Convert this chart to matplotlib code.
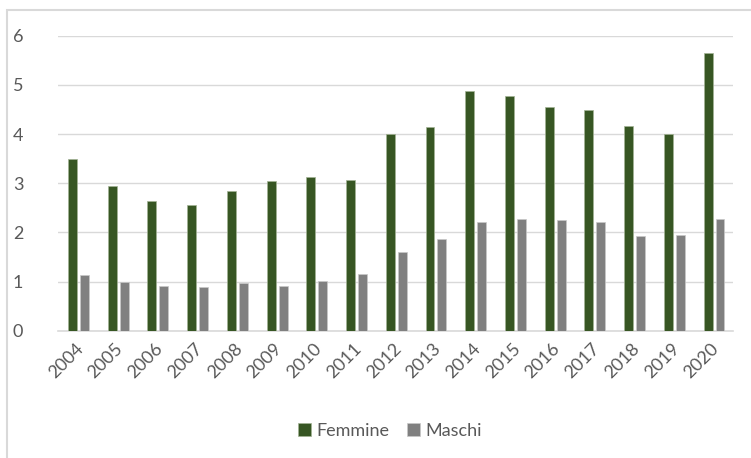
import numpy as np
import matplotlib.pyplot as plt
import matplotlib.transforms as mtransforms
from matplotlib.patches import Rectangle

plt.rcParams["font.family"] = ["Lato", "DejaVu Sans"]

# Values
years = [str(y) for y in range(2004, 2021)]
femmine = [3.50, 2.95, 2.63, 2.56, 2.85, 3.04, 3.13, 3.06, 4.01, 4.14,
           4.87, 4.78, 4.55, 4.48, 4.16, 4.01, 5.65]
maschi = [1.13, 0.99, 0.91, 0.89, 0.97, 0.91, 1.02, 1.15, 1.60, 1.86,
          2.21, 2.28, 2.26, 2.22, 1.93, 1.94, 2.28]

green = "#375623"
grey = "#808080"
text_col = "#595959"
grid_col = "#d9d9d9"

fig = plt.figure(figsize=(7.51, 4.58), dpi=100)
ax = fig.add_axes([58 / 751, 1 - 330.7 / 458, (733.3 - 58) / 751, (330.7 - 35.7) / 458])

x = np.arange(len(years))
w = 0.225
ax.bar(x - 0.135, femmine, w, color=green, edgecolor="#a3b395", linewidth=0.5, label="Femmine", zorder=3)
ax.bar(x + 0.165, maschi, w, color=grey, edgecolor="#c8c8c8", linewidth=0.5, label="Maschi", zorder=3)

ax.set_xlim(-0.5, len(years) - 0.5)
ax.set_ylim(0, 6)
ax.set_yticks(range(7))
ax.yaxis.grid(True, color=grid_col, linewidth=1.0, zorder=0)
ax.set_xticks(x)
ax.set_xticklabels(years, rotation=45, ha="right", va="center", rotation_mode="anchor")
ax.tick_params(axis="both", length=0, labelsize=13, labelcolor=text_col)
ax.tick_params(axis="y", pad=25)
ax.tick_params(axis="x", pad=11)
shift = mtransforms.ScaledTranslation(3 / 100, 0, fig.dpi_scale_trans)
for lab in ax.get_xticklabels():
    lab.set_transform(lab.get_transform() + shift)
for side in ["left", "right", "top"]:
    ax.spines[side].set_visible(False)
ax.spines["bottom"].set_color(grid_col)
ax.spines["bottom"].set_linewidth(1.2)

leg = fig.legend(loc="center", bbox_to_anchor=(390 / 751, 1 - 431 / 458), ncol=2,
                 frameon=False, fontsize=13, handlelength=0.7, handleheight=0.7,
                 handletextpad=0.3, columnspacing=1.0)
for t in leg.get_texts():
    t.set_color(text_col)

# chart area border
fig.patches.append(Rectangle((7 / 751, -0.1), 1.2, 1 - 10 / 458 + 0.1, transform=fig.transFigure,
                             fill=False, edgecolor=grid_col, linewidth=1.5))

fig.savefig("out.png", dpi=100)
